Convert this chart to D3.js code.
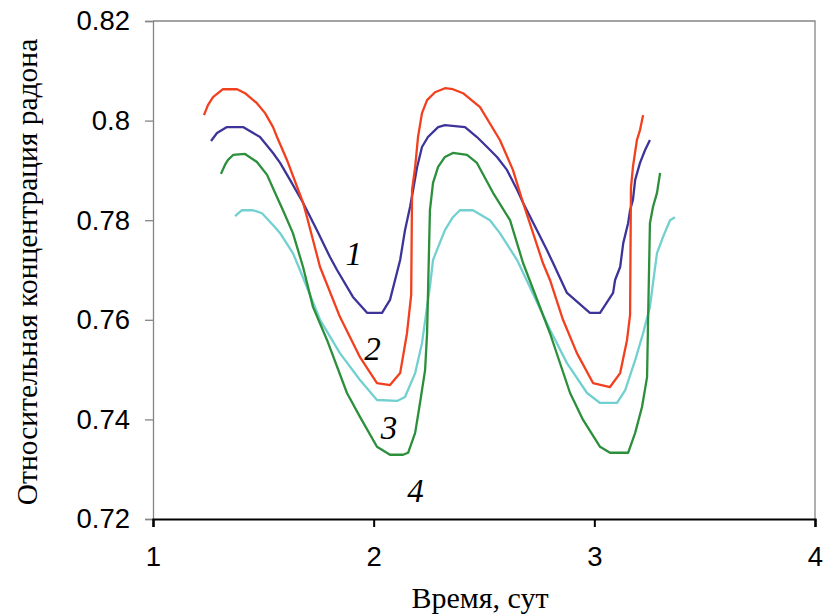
<!DOCTYPE html>
<html>
<head>
<meta charset="utf-8">
<script src="https://cdn.jsdelivr.net/npm/d3@7"></script>
<style>
  html, body { margin: 0; padding: 0; background: #fff; }
  svg { display: block; }
</style>
</head>
<body>
<svg id="chart" width="825" height="615"></svg>
<script>
// ---- data (time in days, relative radon concentration) ----
const xTicks = [1, 2, 3, 4];
const yTicks = [0.72, 0.74, 0.76, 0.78, 0.80, 0.82];
const yTickLabels = ["0.72", "0.74", "0.76", "0.78", "0.8", "0.82"];

const series1 = [
  [1.263,0.7959],[1.290,0.7975],[1.335,0.7987],[1.408,0.7987],[1.485,0.7967],[1.544,0.7935],
  [1.576,0.7915],[1.621,0.7881],[1.680,0.7835],[1.743,0.7780],[1.802,0.7726],[1.834,0.7700],
  [1.906,0.7646],[1.970,0.7614],[2.038,0.7614],[2.074,0.7640],[2.097,0.7680],[2.120,0.7720],
  [2.142,0.7780],[2.165,0.7827],[2.179,0.7861],[2.197,0.7907],[2.219,0.7947],[2.246,0.7967],
  [2.292,0.7987],[2.323,0.7991],[2.369,0.7989],[2.414,0.7987],[2.468,0.7967],[2.514,0.7947],
  [2.559,0.7927],[2.604,0.7901],[2.650,0.7861],[2.677,0.7835],[2.740,0.7780],[2.785,0.7740],
  [2.813,0.7714],[2.876,0.7654],[2.980,0.7614],[3.026,0.7614],[3.085,0.7654],[3.094,0.7680],
  [3.117,0.7706],[3.131,0.7754],[3.153,0.7794],[3.162,0.7820],[3.175,0.7841],[3.185,0.7881],
  [3.207,0.7915],[3.230,0.7941],[3.252,0.7961]
];
const series2 = [
  [1.231,0.8011],[1.249,0.8031],[1.272,0.8047],[1.317,0.8063],[1.381,0.8063],[1.417,0.8055],
  [1.471,0.8035],[1.508,0.8015],[1.544,0.7987],[1.562,0.7967],[1.607,0.7921],[1.680,0.7835],
  [1.698,0.7806],[1.757,0.7706],[1.847,0.7606],[1.938,0.7525],[2.015,0.7473],[2.074,0.7469],
  [2.120,0.7493],[2.151,0.7573],[2.170,0.7650],[2.174,0.7861],[2.188,0.7907],[2.201,0.7967],
  [2.219,0.8015],[2.242,0.8041],[2.278,0.8057],[2.323,0.8065],[2.359,0.8063],[2.405,0.8055],
  [2.482,0.8027],[2.572,0.7961],[2.631,0.7901],[2.677,0.7835],[2.767,0.7714],[2.799,0.7680],
  [2.858,0.7600],[2.921,0.7533],[2.994,0.7473],[3.071,0.7465],[3.117,0.7493],[3.148,0.7559],
  [3.162,0.7610],[3.166,0.7865],[3.175,0.7907],[3.193,0.7961],[3.207,0.7981],[3.221,0.8011]
];
const series3 = [
  [1.308,0.7893],[1.326,0.7911],[1.340,0.7921],[1.363,0.7931],[1.417,0.7933],[1.471,0.7917],
  [1.517,0.7891],[1.553,0.7855],[1.589,0.7820],[1.634,0.7774],[1.680,0.7706],[1.725,0.7626],
  [1.789,0.7559],[1.879,0.7453],[1.938,0.7405],[2.015,0.7345],[2.074,0.7329],[2.133,0.7329],
  [2.156,0.7333],[2.188,0.7373],[2.210,0.7433],[2.233,0.7499],[2.242,0.7573],[2.255,0.7820],
  [2.269,0.7875],[2.292,0.7907],[2.323,0.7927],[2.359,0.7935],[2.423,0.7931],[2.468,0.7915],
  [2.541,0.7855],[2.618,0.7800],[2.677,0.7714],[2.799,0.7573],[2.890,0.7453],[2.949,0.7399],
  [3.026,0.7345],[3.071,0.7333],[3.153,0.7333],[3.185,0.7373],[3.216,0.7425],[3.239,0.7485],
  [3.243,0.7586],[3.252,0.7794],[3.266,0.7827],[3.284,0.7855],[3.298,0.7895]
];
const series4 = [
  [1.372,0.7808],[1.403,0.7820],[1.453,0.7820],[1.494,0.7814],[1.553,0.7786],[1.576,0.7774],
  [1.634,0.7734],[1.666,0.7700],[1.757,0.7600],[1.847,0.7533],[1.938,0.7479],[2.015,0.7439],
  [2.106,0.7437],[2.142,0.7445],[2.188,0.7493],[2.219,0.7553],[2.242,0.7626],[2.255,0.7666],
  [2.269,0.7720],[2.292,0.7746],[2.323,0.7780],[2.359,0.7806],[2.391,0.7820],[2.450,0.7820],
  [2.527,0.7800],[2.572,0.7774],[2.650,0.7720],[2.799,0.7580],[2.876,0.7513],[2.967,0.7453],
  [3.026,0.7433],[3.103,0.7433],[3.140,0.7459],[3.185,0.7519],[3.221,0.7573],[3.252,0.7626],
  [3.266,0.7674],[3.284,0.7734],[3.311,0.7766],[3.343,0.7800],[3.365,0.7806]
];
const seriesNames = ["1", "2", "3", "4"];
const seriesColors = ["#3d3499", "#f2401f", "#2b8f3b", "#72d0d0"];
// curve number labels (placed at data coordinates)
const labelPos = [[1.91, 0.7725], [1.995, 0.7534], [2.07, 0.7375], [2.19, 0.725]];

// ---- layout ----
const svg = d3.select("#chart");
const L = 153, R = 815, T = 21, B = 519;
const x = d3.scaleLinear().domain([1, 4]).range([L, R]);
const y = d3.scaleLinear().domain([0.72, 0.82]).range([B, T]);

// frame (top and right, gray)
svg.append("path")
  .attr("d", `M${L},${T}H${R}V${B}`)
  .attr("fill", "none").attr("stroke", "#858585").attr("stroke-width", 1.3);

// y axis
const yAxis = d3.axisLeft(y).tickValues(yTicks)
  .tickFormat((d, i) => yTickLabels[i]).tickSize(8).tickPadding(15);
const gy = svg.append("g").attr("transform", `translate(${L},0)`).call(yAxis);
gy.select(".domain").attr("stroke", "#858585").attr("stroke-width", 1.3);
gy.selectAll(".tick line").attr("stroke", "#858585").attr("stroke-width", 1.3);
gy.selectAll(".tick text").attr("font-family", "Liberation Sans, Arial, sans-serif")
  .attr("font-size", 27.5).attr("fill", "#000");

// x axis
const xAxis = d3.axisBottom(x).tickValues(xTicks).tickFormat(d3.format("d"))
  .tickSize(8).tickPadding(19);
const gx = svg.append("g").attr("transform", `translate(0,${B})`).call(xAxis);
gx.select(".domain").attr("stroke", "#000").attr("stroke-width", 2.2);
gx.selectAll(".tick line").attr("stroke", "#000").attr("stroke-width", 2);
gx.selectAll(".tick text").attr("font-family", "Liberation Sans, Arial, sans-serif")
  .attr("font-size", 27.5).attr("fill", "#000");

// lines
const line = d3.line().x(d => x(d[0])).y(d => y(d[1]));
const allSeries = [series1, series2, series3, series4];
// draw order: cyan, green, blue, red
[3, 2, 0, 1].forEach(i => {
  svg.append("path").datum(allSeries[i])
    .attr("d", line)
    .attr("fill", "none")
    .attr("stroke", seriesColors[i])
    .attr("stroke-width", 2.3)
    .attr("stroke-linejoin", "round");
});

// curve labels
svg.selectAll("text.lab").data(labelPos).enter().append("text")
  .attr("class", "lab")
  .attr("x", d => x(d[0])).attr("y", d => y(d[1]))
  .attr("text-anchor", "middle").attr("dominant-baseline", "middle")
  .attr("font-family", "Liberation Serif, Times New Roman, serif")
  .attr("font-style", "italic").attr("font-size", 33).attr("fill", "#000")
  .text((d, i) => seriesNames[i]);

// axis titles
svg.append("text")
  .attr("x", 480).attr("y", 608)
  .attr("text-anchor", "middle")
  .attr("font-family", "Liberation Serif, Times New Roman, serif")
  .attr("font-size", 30).attr("fill", "#000")
  .text("Время, сут");

svg.append("text")
  .attr("transform", "translate(37,272) rotate(-90)")
  .attr("text-anchor", "middle")
  .attr("font-family", "Liberation Serif, Times New Roman, serif")
  .attr("font-size", 29.5).attr("fill", "#000")
  .text("Относительная концентрация радона");
</script>
</body>
</html>
